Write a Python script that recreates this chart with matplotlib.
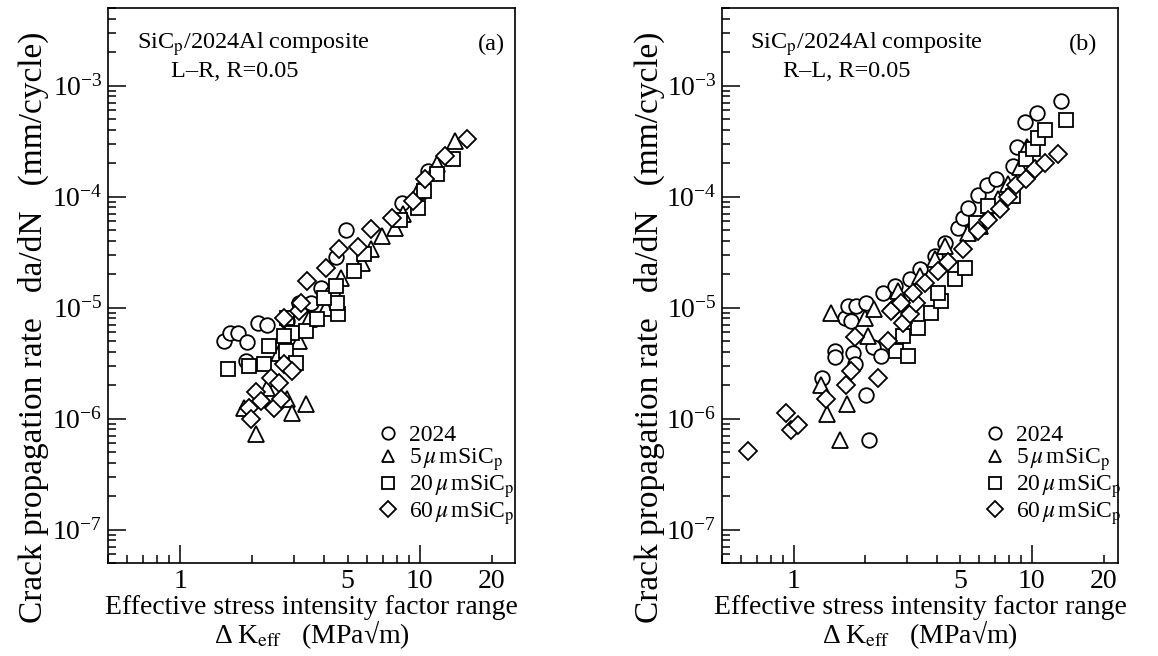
import matplotlib
matplotlib.use('Agg')
import matplotlib.pyplot as plt
from matplotlib.ticker import LogLocator, NullFormatter, FuncFormatter, FixedLocator

plt.rcParams['font.family'] = ['Liberation Serif', 'DejaVu Serif']
plt.rcParams['mathtext.fontset'] = 'stix'

# ---- panel (a): L-R ----
a_2024_dk = [1.52, 1.61, 1.75, 1.91, 1.88, 2.11, 2.30, 2.79, 3.13, 3.52, 3.88, 4.31, 4.48, 4.94, 8.4, 10.8]
a_2024_da = [5.0e-6, 5.9e-6, 5.9e-6, 4.9e-6, 3.3e-6, 7.2e-6, 6.9e-6, 7.6e-6, 1.09e-5, 1.1e-5, 1.5e-5,
             1.34e-5, 2.87e-5, 5.05e-5, 8.8e-5, 1.71e-4]

a_5_dk = [1.84, 2.07, 2.30, 2.79, 2.93, 3.35, 3.13, 4.07, 4.70, 5.76, 6.28, 6.99, 7.85, 8.48, 9.81,
          11.8, 14.0, 2.58, 3.45]
a_5_da = [1.25e-6, 7.3e-7, 1.87e-6, 1.51e-6, 1.13e-6, 1.36e-6, 5.0e-6, 1.0e-5, 1.86e-5, 2.54e-5, 3.4e-5,
          4.46e-5, 5.26e-5, 7.0e-5, 1.13e-4, 1.98e-4, 3.19e-4, 3.9e-6, 7.9e-6]

a_20_dk = [1.58, 1.93, 2.23, 2.34, 2.76, 3.04, 2.93, 2.71, 3.35, 3.73, 2.79, 4.57, 4.52, 3.99, 4.48,
           5.33, 5.87, 8.24, 9.81, 10.4, 11.8, 13.8]
a_20_da = [2.8e-6, 3.0e-6, 3.1e-6, 4.55e-6, 4.1e-6, 3.2e-6, 5.9e-6, 5.6e-6, 6.2e-6, 7.9e-6, 8.1e-6,
           8.8e-6, 1.09e-5, 1.23e-5, 1.58e-5, 2.15e-5, 3.06e-5, 6.1e-5, 7.96e-5, 1.13e-4, 1.61e-4, 2.2e-4]

a_60_dk = [1.93, 1.97, 2.07, 2.17, 2.39, 2.46, 2.58, 2.63, 2.71, 2.93, 2.71, 3.13, 3.19, 3.38, 4.07,
           4.61, 5.54, 6.28, 7.63, 9.35, 10.5, 12.7, 15.8]
a_60_da = [1.25e-6, 9.9e-7, 1.72e-6, 1.45e-6, 2.3e-6, 1.25e-6, 2.1e-6, 1.51e-6, 3.1e-6, 2.7e-6, 8.1e-6,
           9.4e-6, 1.09e-5, 1.75e-5, 2.29e-5, 3.4e-5, 3.55e-5, 5.1e-5, 6.47e-5, 9.2e-5, 1.45e-4,
           2.34e-4, 3.33e-4]

# ---- panel (b): R-L ----
b_2024_dk = [1.32, 1.49, 1.49, 1.77, 1.80, 2.01, 2.07, 2.15, 2.32, 1.64, 1.74, 1.69, 1.82, 2.01, 2.37,
             2.66, 3.07, 3.38, 3.91, 4.31, 4.89, 5.13, 5.38, 5.93, 6.47, 7.06, 8.32, 8.65, 9.35,
             10.5, 13.2]
b_2024_da = [2.3e-6, 4.1e-6, 3.55e-6, 3.9e-6, 3.1e-6, 1.62e-6, 6.4e-7, 4.4e-6, 3.7e-6, 8.1e-6, 7.6e-6,
             1.04e-5, 1.04e-5, 1.09e-5, 1.36e-5, 1.58e-5, 1.81e-5, 2.24e-5, 2.93e-5, 3.78e-5,
             5.26e-5, 6.47e-5, 7.96e-5, 1.04e-4, 1.26e-4, 1.45e-4, 1.9e-4, 2.77e-4, 4.65e-4,
             5.7e-4, 7.33e-4]

b_5_dk = [1.38, 1.56, 1.67, 1.30, 1.43, 1.99, 2.05, 2.17, 2.73, 3.38, 3.91, 4.31, 5.38, 6.04, 6.53,
          7.20, 7.93, 8.90, 9.53]
b_5_da = [1.10e-6, 6.4e-7, 1.36e-6, 2.0e-6, 9.0e-6, 8.1e-6, 5.6e-6, 9.8e-6, 1.42e-5, 1.94e-5, 2.76e-5,
          3.62e-5, 4.65e-5, 5.48e-5, 7.18e-5, 9.6e-5, 1.31e-4, 1.83e-4, 2.82e-4]

b_20_dk = [2.68, 3.01, 2.87, 3.32, 3.76, 4.15, 4.03, 4.75, 5.23, 5.82, 6.53, 8.32, 9.44, 10.1, 10.6,
           11.3, 13.9]
b_20_da = [4.1e-6, 3.7e-6, 5.5e-6, 6.6e-6, 9.0e-6, 1.15e-5, 1.36e-5, 1.81e-5, 2.29e-5, 5.83e-5, 8.3e-5,
           1.02e-4, 2.2e-4, 2.7e-4, 3.4e-4, 4.0e-4, 4.94e-4]

b_60_dk = [0.64, 0.93, 0.97, 1.04, 1.36, 1.65, 1.74, 1.80, 2.25, 2.48, 2.61, 2.87, 3.07, 3.26, 2.56,
           2.82, 3.16, 3.55, 4.03, 4.44, 5.13, 5.93, 6.53, 7.34, 7.93, 8.57, 9.44, 10.3, 11.3, 12.9]
b_60_da = [5.1e-7, 1.13e-6, 7.9e-7, 8.7e-7, 1.51e-6, 2.0e-6, 2.7e-6, 5.4e-6, 2.3e-6, 5.0e-6, 9.8e-6,
           7.3e-6, 8.8e-6, 1.09e-5, 9.4e-6, 1.09e-5, 1.36e-5, 1.67e-5, 2.15e-5, 2.6e-5, 3.4e-5,
           4.9e-5, 6.1e-5, 7.8e-5, 1.0e-4, 1.26e-4, 1.45e-4, 1.79e-4, 2.02e-4, 2.44e-4]

labels = ['2024', r'5$\,\mu\,$mSiC$_{\rm p}$', r'20$\,\mu\,$mSiC$_{\rm p}$', r'60$\,\mu\,$mSiC$_{\rm p}$']
markers = ['o', '^', 's', 'D']
sizes = [10.5, 11, 10, 9]

fig = plt.figure(figsize=(11.58, 6.56), dpi=100)
ax1 = fig.add_axes([0.0933, 0.1418, 0.3515, 0.846])
ax2 = fig.add_axes([0.6235, 0.1418, 0.342, 0.846])


def xfmt(v, pos):
    for t in (1, 5, 10, 20):
        if abs(v - t) < 1e-6 * t:
            return str(t)
    return ''


def panel(ax, series, tag, orient, xmax, tagx):
    for (dk, da), m, s, lab in zip(series, markers, sizes, labels):
        ax.plot(dk, da, ls='none', marker=m, ms=s, mfc='white', mec='black', mew=1.3, label=lab)
    ax.set_xscale('log')
    ax.set_yscale('log')
    ax.set_xlim(0.5, xmax)
    ax.set_ylim(5e-8, 5e-3)
    ax.xaxis.set_major_locator(FixedLocator([1, 10]))
    ax.xaxis.set_minor_locator(FixedLocator([0.5, 0.6, 0.7, 0.8, 0.9, 2, 3, 4, 5, 6, 7, 8, 9, 20]))
    ax.xaxis.set_major_formatter(FuncFormatter(xfmt))
    ax.xaxis.set_minor_formatter(FuncFormatter(xfmt))
    ax.yaxis.set_major_locator(LogLocator(base=10, numticks=20))
    ax.yaxis.set_minor_locator(LogLocator(base=10, subs=range(2, 10), numticks=20))
    ax.yaxis.set_minor_formatter(NullFormatter())
    ax.tick_params(which='both', direction='in', top=False, right=False, labelsize=20, width=1.1)
    ax.tick_params(which='major', length=13, pad=4)
    ax.tick_params(which='minor', length=6, pad=4)
    for sp in ax.spines.values():
        sp.set_linewidth(1.2)
    ax.set_ylabel('Crack propagation rate   da/dN   (mm/cycle)', fontsize=24)
    ax.yaxis.set_label_coords(-0.145, 0.425)
    ax.set_xlabel('Effective stress intensity factor range\n'
                  '\u0394\u2009K$_{\\rm eff}$   (MPa\u221am)', fontsize=20, linespacing=0.95,
                  labelpad=1)
    ax.text(0.07, 0.935, r'SiC$_{\rm p}$/2024Al composite', transform=ax.transAxes,
            fontsize=17.5, va='center', ha='left')
    ax.text(0.155, 0.885, orient, transform=ax.transAxes, fontsize=17.5, va='center', ha='left')
    ax.text(tagx, 0.935, tag, transform=ax.transAxes, fontsize=17.5, va='center', ha='right')
    ax.legend(loc='upper left', bbox_to_anchor=(0.623, 0.27), frameon=False, fontsize=17,
              markerscale=0.85, handletextpad=0.3, labelspacing=0.0, borderpad=0,
              handlelength=1.2)


panel(ax1, [(a_2024_dk, a_2024_da), (a_5_dk, a_5_da), (a_20_dk, a_20_da), (a_60_dk, a_60_da)],
      '(a)', 'L\u2013R, R=0.05', 25, 0.975)
panel(ax2, [(b_2024_dk, b_2024_da), (b_5_dk, b_5_da), (b_20_dk, b_20_da), (b_60_dk, b_60_da)],
      '(b)', 'R\u2013L, R=0.05', 23, 0.947)

fig.savefig('out.png', dpi=100)
